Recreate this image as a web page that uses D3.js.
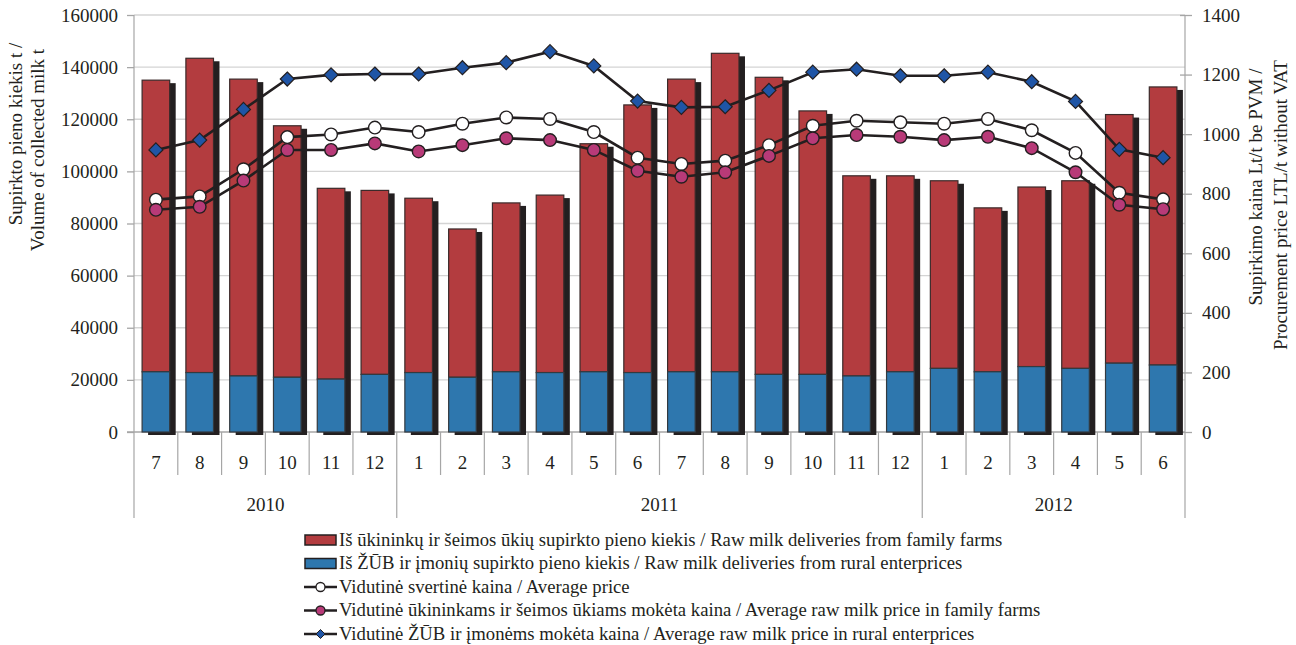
<!DOCTYPE html>
<html><head><meta charset="utf-8">
<script src="https://cdn.jsdelivr.net/npm/d3@7"></script>
<style>
html,body{margin:0;padding:0;background:#fff;}
svg text{font-family:"Liberation Serif","DejaVu Serif",serif !important;fill:#231f20;}
</style></head>
<body><svg id="c" width="1296" height="645" font-family="Liberation Serif"></svg>
<script>
const months = [7,8,9,10,11,12,1,2,3,4,5,6,7,8,9,10,11,12,1,2,3,4,5,6];
const years = [{label:"2010",start:0,end:6},{label:"2011",start:6,end:18},{label:"2012",start:18,end:24}];
const familyFarms = [111900,120600,113900,96500,73200,70600,66900,56900,64800,68100,87500,102700,112300,122200,114000,101100,76800,75200,72000,62900,68900,72000,95400,106700];
const ruralEnterprises = [23100,22800,21500,21000,20300,22100,22800,21000,23100,22800,23100,22800,23100,23100,22100,22100,21500,23100,24400,23100,25100,24400,26400,25700];
const avgPrice = [780,791,882,990,999,1022,1007,1035,1056,1051,1007,921,900,911,963,1028,1045,1040,1035,1051,1013,937,803,781];
const familyPrice = [746,756,844,947,947,969,942,963,986,980,947,877,857,872,927,986,997,991,980,991,953,872,763,748];
const enterprisePrice = [947,980,1083,1185,1199,1202,1202,1223,1240,1277,1229,1111,1090,1092,1147,1208,1218,1196,1196,1208,1176,1110,949,921];
const leftTicks = [0,20000,40000,60000,80000,100000,120000,140000,160000];
const rightTicks = [0,200,400,600,800,1000,1200,1400];
const legendLabels = [
 "Iš ūkininkų ir šeimos ūkių supirkto pieno kiekis / Raw milk deliveries from family farms",
 "Iš ŽŪB ir įmonių supirkto pieno kiekis / Raw milk deliveries from rural enterprices",
 "Vidutinė svertinė kaina / Average price",
 "Vidutinė ūkininkams ir šeimos ūkiams mokėta kaina / Average raw milk price in family farms",
 "Vidutinė ŽŪB ir įmonėms mokėta kaina / Average raw milk price in rural enterprices"
];

const FONT = "'Liberation Serif', 'DejaVu Serif', serif";
const FS = "19px";
const C = {red:"#b33c3f", blue:"#2e77ae", shadow:"#231f20", white:"#ffffff", magenta:"#b83a78", diamond:"#1f55a6", line:"#231f20", grid:"#d4d4d4", axis:"#a6a6a6"};
const X0=134, X1=1185, Y0=432, YT=15;
const svg = d3.select("#c");
const idx = d3.range(months.length);
const x = d3.scaleBand().domain(idx).range([X0,X1]).paddingInner(0.37).paddingOuter(0.185);
const step = x.step();
const cx = i => x(i) + x.bandwidth()/2;
const yL = d3.scaleLinear().domain([0,160000]).range([Y0,YT]);
const yR = d3.scaleLinear().domain([0,1400]).range([Y0,YT]);

// gridlines
svg.append("g").selectAll("line").data(leftTicks.slice(1)).join("line")
 .attr("x1",X0).attr("x2",X1).attr("y1",d=>yL(d)).attr("y2",d=>yL(d))
 .attr("stroke",C.grid).attr("stroke-width",1.3);

// left axis
const gl = svg.append("g").attr("transform",`translate(${X0},0)`)
 .call(d3.axisLeft(yL).tickValues(leftTicks).tickFormat(d3.format("d")).tickSize(7).tickPadding(9));
gl.attr("font-family",FONT);
gl.select(".domain").remove();
gl.selectAll(".tick line").attr("stroke",C.axis).attr("stroke-width",1.3);
gl.selectAll("text").style("font-size",FS).attr("fill","#231f20");
// right axis
const gr = svg.append("g").attr("transform",`translate(${X1},0)`)
 .call(d3.axisRight(yR).tickValues(rightTicks).tickFormat(d3.format("d")).tickSize(7).tickPadding(10));
gr.attr("font-family",FONT);
gr.select(".domain").remove();
gr.selectAll(".tick line").attr("x1",-5).attr("stroke",C.axis).attr("stroke-width",1.3);
gr.selectAll("text").style("font-size",FS).attr("fill","#231f20");

// x axis baseline & separators
svg.append("line").attr("x1",X0-7).attr("x2",X1).attr("y1",Y0).attr("y2",Y0).attr("stroke",C.axis).attr("stroke-width",1.5);
svg.append("g").selectAll("line").data(d3.range(months.length+1)).join("line")
 .attr("x1",i=>X0+i*step).attr("x2",i=>X0+i*step)
 .attr("y1",i=> (i===0||i===months.length)?YT:Y0)
 .attr("y2",i=> years.some(y=>y.start===i||y.end===i)?518:475)
 .attr("stroke",C.axis).attr("stroke-width",1.2);
svg.append("g").selectAll("text").data(idx).join("text")
 .attr("x",cx).attr("y",469).attr("text-anchor","middle").style("font-size",FS).text(i=>months[i]);
svg.append("g").selectAll("text").data(years).join("text")
 .attr("x",d=>X0+(d.start+d.end)/2*step).attr("y",511).attr("text-anchor","middle").style("font-size",FS).text(d=>d.label);

// bars
const stacks = idx.map(i=>({i, ent:ruralEnterprises[i], fam:familyFarms[i], tot:ruralEnterprises[i]+familyFarms[i]}));
const bw = x.bandwidth();
const gb = svg.append("g");
gb.selectAll("rect.sh").data(stacks).join("rect").attr("class","sh")
 .attr("x",d=>x(d.i)+6).attr("y",d=>yL(d.tot)+3).attr("width",bw).attr("height",d=>yL(0)-yL(d.tot))
 .attr("fill",C.shadow);
gb.selectAll("rect.fam").data(stacks).join("rect").attr("class","fam")
 .attr("x",d=>x(d.i)).attr("y",d=>yL(d.tot)).attr("width",bw).attr("height",d=>yL(d.ent)-yL(d.tot))
 .attr("fill",C.red).attr("stroke","#3a2a2a").attr("stroke-width",1.2);
gb.selectAll("rect.ent").data(stacks).join("rect").attr("class","ent")
 .attr("x",d=>x(d.i)).attr("y",d=>yL(d.ent)).attr("width",bw).attr("height",d=>yL(0)-yL(d.ent))
 .attr("fill",C.blue).attr("stroke","#333a40").attr("stroke-width",1.2);

// lines
const line = vals => d3.line().x((d,i)=>cx(i)).y(d=>yR(d))(vals);
const series = [
 {vals:avgPrice, fill:C.white, shape:"circle"},
 {vals:familyPrice, fill:C.magenta, shape:"circle"},
 {vals:enterprisePrice, fill:C.diamond, shape:"diamond"}
];
const diamondPath = (s)=>`M0,${-s}L${s},0L0,${s}L${-s},0Z`;
series.forEach(s=>{
 svg.append("path").attr("d",line(s.vals)).attr("fill","none").attr("stroke",C.line).attr("stroke-width",2.6);
});
series.forEach(s=>{
 const g = svg.append("g");
 if(s.shape==="circle"){
  g.selectAll("circle").data(s.vals).join("circle").attr("cx",(d,i)=>cx(i)).attr("cy",d=>yR(d)).attr("r",6.3)
   .attr("fill",s.fill).attr("stroke",C.line).attr("stroke-width",1.4);
 } else {
  g.selectAll("path").data(s.vals).join("path").attr("transform",(d,i)=>`translate(${cx(i)},${yR(d)})`)
   .attr("d",diamondPath(7)).attr("fill",s.fill).attr("stroke",C.line).attr("stroke-width",1.2);
 }
});

// axis titles
const lt = svg.append("g").style("font-size",FS);
lt.append("text").attr("transform","translate(22,134) rotate(-90)").attr("text-anchor","middle").text("Supirkto pieno kiekis t /");
lt.append("text").attr("transform","translate(44,150) rotate(-90)").attr("text-anchor","middle").text("Volume of collected milk t");
lt.append("text").attr("transform","translate(1262,187) rotate(-90)").attr("text-anchor","middle").text("Supirkimo kaina Lt/t be PVM /");
lt.append("text").attr("transform","translate(1287,205) rotate(-90)").attr("text-anchor","middle").text("Procurement price LTL/t without VAT");

// legend
const lg = svg.append("g");
const ly0 = 540, ldy = 23.5;
legendLabels.forEach((t,k)=>{
 const yy = ly0 + k*ldy;
 if(k<2){
  lg.append("rect").attr("x",305).attr("y",yy-5).attr("width",31).attr("height",10)
   .attr("fill",k===0?C.red:C.blue).attr("stroke","#231f20").attr("stroke-width",1.5);
 } else {
  const s = series[k-2];
  lg.append("line").attr("x1",304).attr("x2",337).attr("y1",yy).attr("y2",yy).attr("stroke",C.line).attr("stroke-width",2.6);
  if(s.shape==="circle") lg.append("circle").attr("cx",320.5).attr("cy",yy).attr("r",4.5).attr("fill",s.fill).attr("stroke",C.line).attr("stroke-width",1.3);
  else lg.append("path").attr("transform",`translate(320.5,${yy})`).attr("d",diamondPath(4.5)).attr("fill",s.fill).attr("stroke",C.line).attr("stroke-width",1);
 }
 lg.append("text").attr("x",339).attr("y",yy+5.5).style("font-size","18.7px").text(t);
});
</script></body></html>
